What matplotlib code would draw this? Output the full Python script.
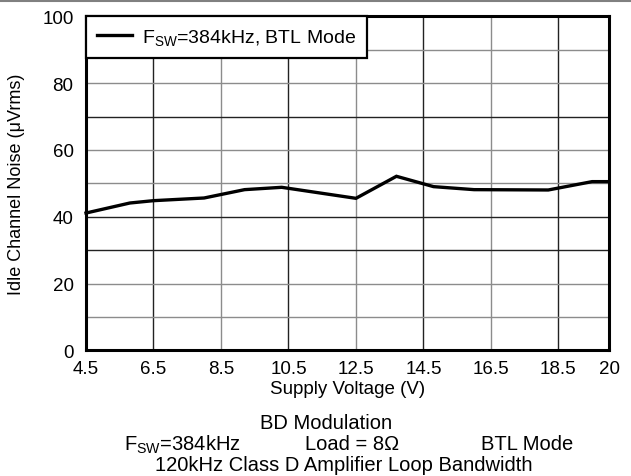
import matplotlib
matplotlib.use('Agg')
import matplotlib.pyplot as plt
from matplotlib.lines import Line2D

# ── data ─────────────────────────────────────────────────────────────────────
supply_v = [4.5, 5.8, 6.5, 8.0, 9.2, 10.3, 12.5, 13.7, 14.8, 16.0, 18.2, 19.5, 20.0]
noise_uv = [41.1, 44.1, 44.8, 45.6, 48.1, 48.8, 45.5, 52.1, 49.0, 48.1, 48.0, 50.5, 50.5]

x_ticks = [4.5, 6.5, 8.5, 10.5, 12.5, 14.5, 16.5, 18.5, 20]
x_tick_labels = ['4.5', '6.5', '8.5', '10.5', '12.5', '14.5', '16.5', '18.5', '20']
y_ticks = [0, 20, 40, 60, 80, 100]
y_grid = [10, 20, 30, 40, 50, 60, 70, 80, 90]

series_label = r'F$_{\mathrm{SW}}$=384kHz, BTL Mode'

plt.rcParams['font.family'] = ['Liberation Sans', 'DejaVu Sans']
plt.rcParams['mathtext.fontset'] = 'custom'
plt.rcParams['mathtext.rm'] = 'Liberation Sans'
plt.rcParams['mathtext.it'] = 'Liberation Sans:italic'

W, H = 631, 477
fig = plt.figure(figsize=(W / 100, H / 100), dpi=100)
ax = fig.add_axes([86 / W, 1 - 351.3 / H, (609 - 86) / W, (351.3 - 17.3) / H])

# ── grid (alternating dark / grey like the datasheet) ──
dark, grey = '#222222', '#8c8c8c'
for i, xv in enumerate(x_ticks[1:-1]):
    ax.axvline(xv, color=dark if i % 2 == 0 else grey, lw=1.0, zorder=1)
for yv in y_grid:
    ax.axhline(yv, color=dark if yv in (30, 40, 70) else grey, lw=1.0, zorder=1)

# ── data line ──
ax.plot(supply_v, noise_uv, color='black', lw=2.4, solid_joinstyle='miter',
        label=series_label, zorder=3, clip_on=False)

ax.set_xlim(4.5, 20)
ax.set_ylim(0, 100)
ax.set_xticks(x_ticks)
ax.set_xticklabels(x_tick_labels)
ax.set_yticks(y_ticks)
ax.tick_params(length=0, labelsize=13.5)
ax.tick_params(axis='y', pad=9)
ax.tick_params(axis='x', pad=7)
for sp in ax.spines.values():
    sp.set_linewidth(2.2)

ax.set_xlabel('Supply Voltage (V)', fontsize=13.5, labelpad=2)
ax.set_ylabel('Idle Channel Noise (\u03bcVrms)', fontsize=13, labelpad=12)

leg = ax.legend(loc='upper left', bbox_to_anchor=(0, 1), fontsize=14,
                frameon=True, fancybox=False, borderaxespad=0,
                handlelength=1.8, handletextpad=0.55, borderpad=0.55)
leg.get_frame().set_edgecolor('black')
leg.get_frame().set_linewidth(1.6)
leg.get_frame().set_alpha(1)

# ── notes under the chart ──
note_fs = 14.5
fig.text(326 / W, 1 - 424 / H, 'BD Modulation', ha='center', va='center', fontsize=note_fs)
fig.text(182 / W, 1 - 445 / H, r'F$_{\mathrm{SW}}$=384kHz', ha='center', va='center', fontsize=note_fs)
fig.text(352 / W, 1 - 445 / H, 'Load = 8\u03a9', ha='center', va='center', fontsize=note_fs)
fig.text(527 / W, 1 - 445 / H, 'BTL Mode', ha='center', va='center', fontsize=note_fs)
fig.text(344 / W, 1 - 466 / H, '120kHz Class D Amplifier Loop Bandwidth',
         ha='center', va='center', fontsize=note_fs)

# thin grey rule along the top edge
fig.add_artist(Line2D([0, 1], [1 - 1.5 / H, 1 - 1.5 / H], color='#808080', lw=1.5))

fig.savefig('out.png', dpi=100)
